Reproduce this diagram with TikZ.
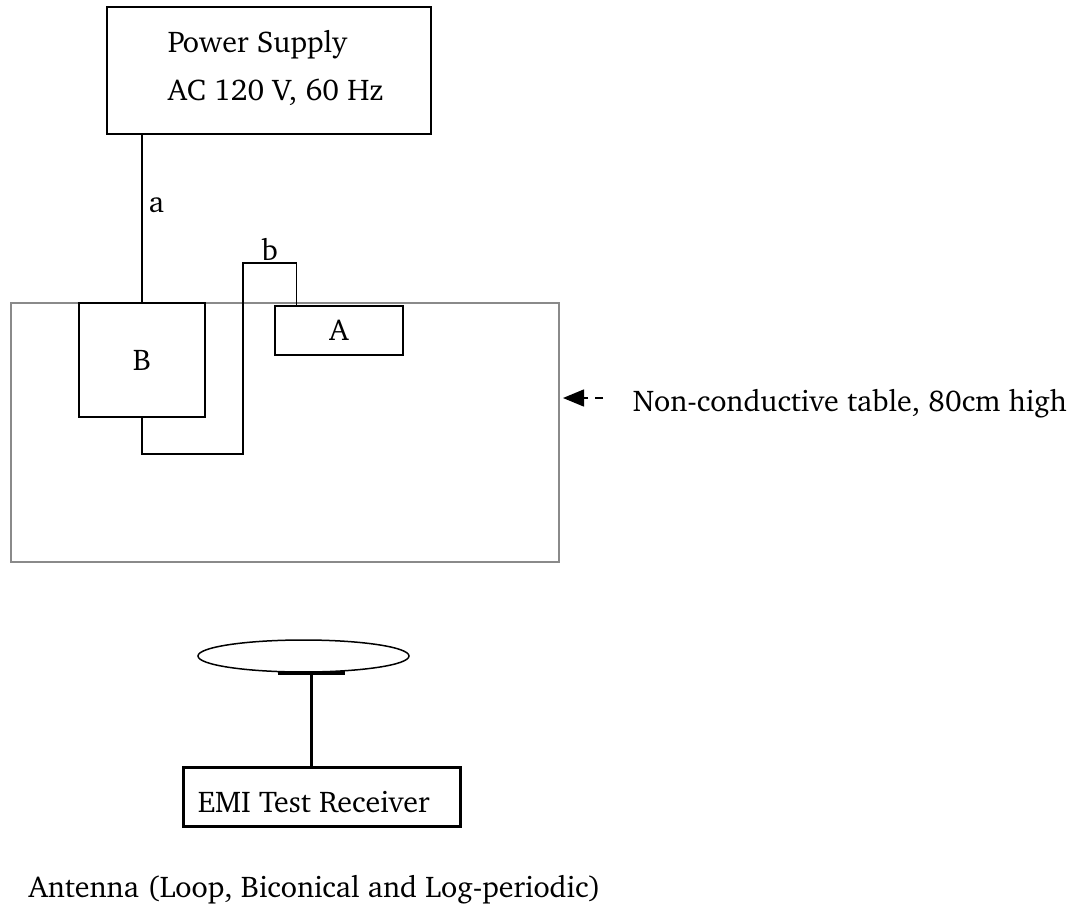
\documentclass[tikz,border=0pt]{standalone}
\usepackage[T1]{fontenc}
\usepackage{charter}
\usepackage{xcolor}
\usetikzlibrary{calc, arrows.meta, shapes.geometric}

\definecolor{tablegrey}{HTML}{8A8A8A}

\begin{document}
\begin{tikzpicture}[x=0.5pt, y=-0.5pt, line width=0.75pt,
		font=\fontsize{15}{18}\selectfont,
		box/.style = {draw, inner sep=0pt},
		label text/.style = {inner sep=0pt, anchor=base west}]
			\def\px{0.5pt}
			\useasboundingbox (0,0) rectangle (1076,906);

			% table and the two units on it
			\node [box, draw=tablegrey, line width=1pt, minimum width=548*\px, minimum height=259*\px] (table) at (285,432.5) {};
			\node [box, minimum width=126*\px, minimum height=114*\px] (B) at (142,360) {B};
			\node [box, minimum width=128*\px, minimum height=49*\px] (A) at (339,330.5) {A};

			% mains
			\node [box, minimum width=324*\px, minimum height=127*\px] (supply) at (269,70.5) {};
			\node [label text] (supply name) at (167,52) {Power Supply};
			\node [label text] (supply rating) at (167,100) {AC 120 V, 60 Hz};

			% cables
			\draw (B.north |- supply.south) -- node [pos=0.42, right, inner sep=3pt] (label a) {a} (B.north);

			\coordinate (b top left) at (243,263);
			\coordinate (b top right) at ($ (A.north west) + (22,0) $);
			\draw (B.south) -- ++(0,36) -| (b top left) -- node [above, inner sep=1pt] (label b) {b} (b top left -| b top right) -- (b top right);

			% pointer to the table
			\node [label text] (table note) at (632,411) {Non-conductive table, 80cm high};
			\coordinate (note tail) at (603,398);
			\draw [dash pattern=on 4pt off 3.5pt, -{Triangle[length=10.5pt, width=8.5pt]}] (note tail) -- ($ (note tail -| table.east) + (3,0) $);

			% antenna and receiver
			\node [box, line width=1.5pt, minimum width=277*\px, minimum height=59*\px] (receiver) at (321.5,796.5) {};
			\node [label text] (receiver name) at (197,812) {EMI Test Receiver};

			\node [ellipse, draw, inner sep=0pt, minimum width=211*\px, minimum height=32*\px] (loop) at (303.5,656) {};
			\coordinate (mast top) at (311,673);
			\draw [line width=2pt] ($ (mast top) + (-33,0) $) -- ($ (mast top) + (34,0) $);
			\draw [line width=1.5pt] (mast top) -- (mast top |- receiver.north);

			\node [label text] (antenna note) at (28,897) {Antenna (Loop, Biconical and Log-periodic)};
		\end{tikzpicture}
\end{document}
